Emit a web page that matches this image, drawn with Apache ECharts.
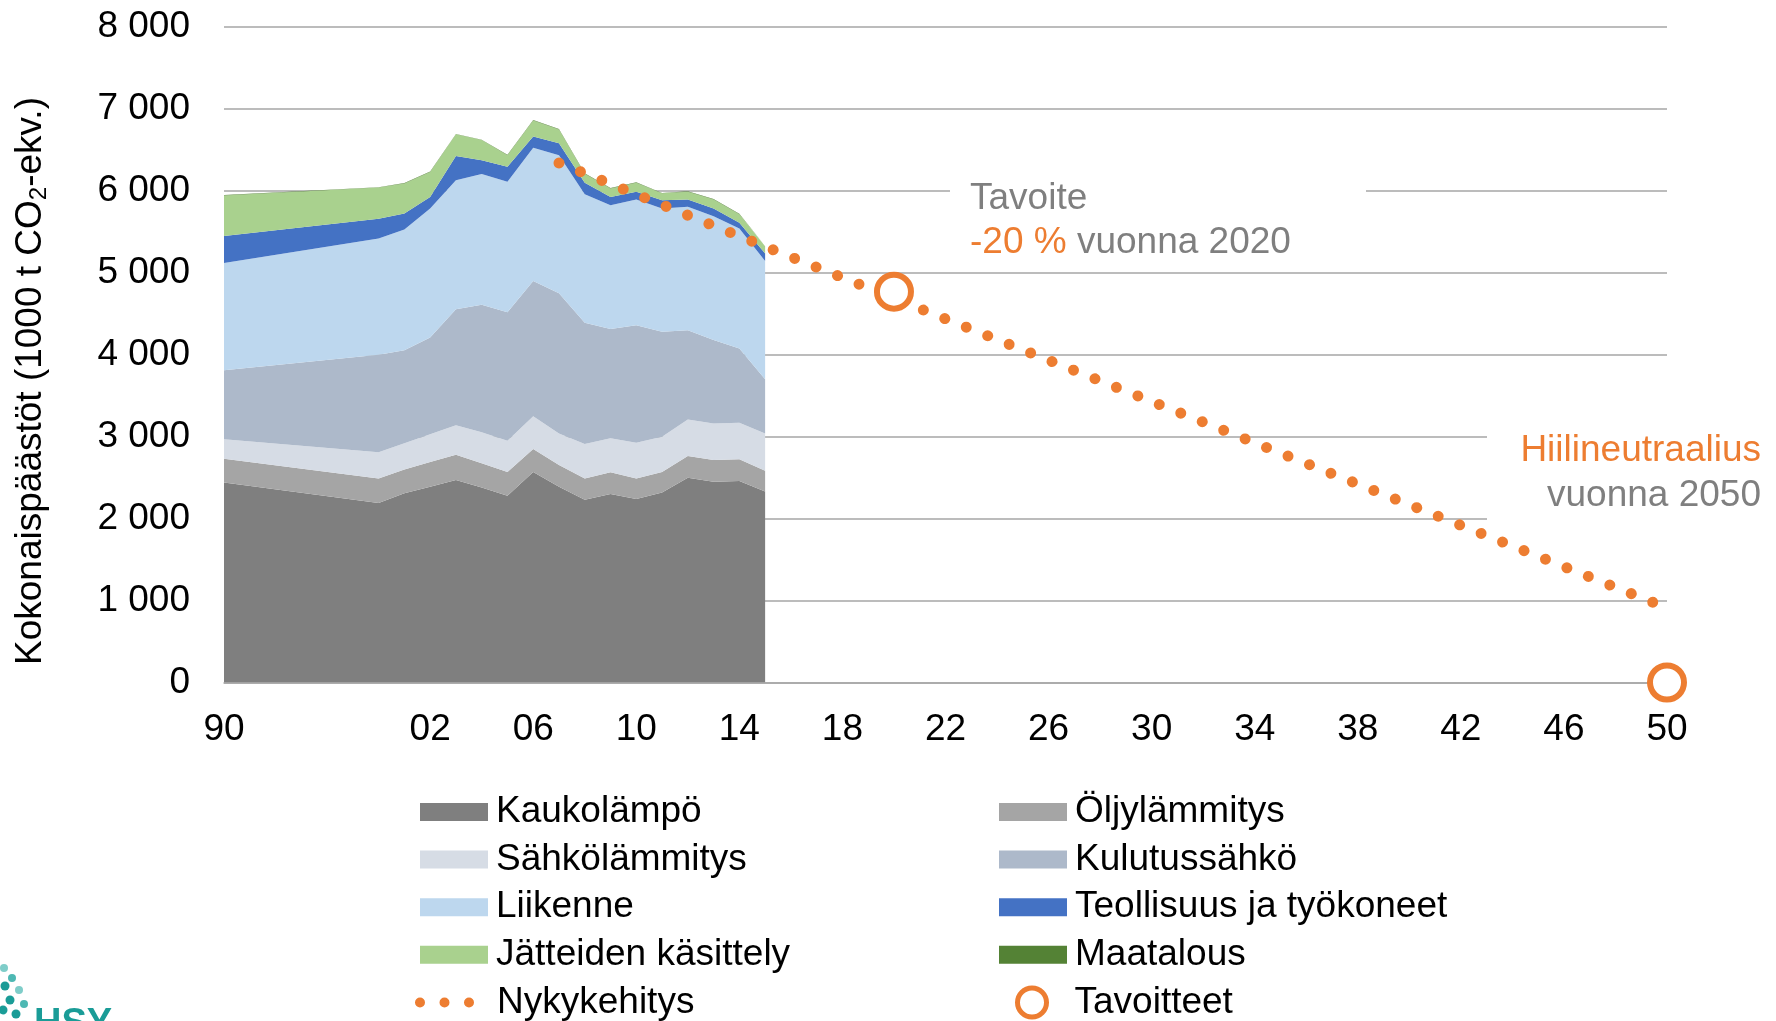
<!DOCTYPE html>
<html>
<head>
<meta charset="utf-8">
<script src="https://cdn.jsdelivr.net/npm/echarts@6/dist/echarts.min.js"></script>
<style>
  html, body { margin: 0; padding: 0; background: #fff; }
  #grafica { width: 1776px; height: 1021px; }
</style>
</head>
<body>
<div id="grafica"></div>
<script>
// vuodet: 1990, sitten tyhjät sarakkeet, 2000-2050
var categories = ['1990', '', '', '', '', ''];
for (var y = 2000; y <= 2050; y++) categories.push(String(y));

var dataYears = [1990, 2000, 2001, 2002, 2003, 2004, 2005, 2006, 2007, 2008, 2009, 2010, 2011, 2012, 2013, 2014, 2015];

var kaukolampo    = [2440, 2190, 2310, 2390, 2470, 2380, 2280, 2570, 2390, 2230, 2300, 2240, 2320, 2500, 2450, 2460, 2330];
var oljylammitys  = [290, 300, 290, 300, 310, 295, 290, 280, 265, 260, 265, 250, 250, 265, 265, 265, 255];
var sahkolammitys = [240, 320, 320, 340, 360, 380, 380, 400, 385, 420, 415, 435, 430, 445, 445, 445, 455];
var kulutussahko  = [840, 1190, 1135, 1180, 1415, 1555, 1570, 1650, 1710, 1480, 1335, 1435, 1280, 1090, 1020, 905, 660];
var liikenne      = [1310, 1420, 1475, 1575, 1575, 1595, 1590, 1625, 1685, 1570, 1510, 1535, 1505, 1505, 1510, 1465, 1445];
var teollisuus    = [330, 240, 195, 140, 295, 170, 185, 140, 145, 140, 100, 95, 100, 90, 95, 70, 90];
var jatteet       = [495, 380, 365, 305, 265, 245, 140, 195, 170, 110, 105, 110, 85, 95, 110, 105, 90];
var maatalous     = [5, 5, 5, 5, 5, 5, 5, 5, 5, 5, 5, 5, 5, 5, 5, 5, 5];

var trendYears  = [2007, 2015, 2050];
var trendValues = [6340, 5320, 910];

var targetYears  = [2020, 2050];
var targetValues = [4770, 0];

var layerNames  = ['Kaukolämpö', 'Öljylämmitys', 'Sähkölämmitys', 'Kulutussähkö', 'Liikenne', 'Teollisuus ja työkoneet', 'Jätteiden käsittely', 'Maatalous'];
var layerValues = [kaukolampo, oljylammitys, sahkolammitys, kulutussahko, liikenne, teollisuus, jatteet, maatalous];
var layerColors = ['#7f7f7f', '#a5a5a5', '#d6dce5', '#adb9ca', '#bdd7ee', '#4472c4', '#a9d18e', '#548235'];

var ORANGE = '#ed7d31';
var GRAYTXT = '#7f7f7f';
var FONT = 'Liberation Sans, Arial, sans-serif';

function pairs(years, vals) {
  return years.map(function (y, i) { return [String(y), vals[i]]; });
}

var series = layerNames.map(function (n, i) {
  return {
    name: n,
    type: 'line',
    stack: 'paastot',
    symbol: 'none',
    itemStyle: { color: layerColors[i] },
    lineStyle: { width: 0 },
    areaStyle: { color: layerColors[i], opacity: 1 },
    data: pairs(dataYears, layerValues[i])
  };
});

series.push({
  name: 'Nykykehitys',
  type: 'line',
  symbol: 'none',
  z: 4,
  itemStyle: { color: ORANGE },
  lineStyle: { color: ORANGE, width: 11, type: [0.01, 23.1], cap: 'round' },
  data: pairs(trendYears, trendValues)
});

series.push({
  name: 'Tavoitteet',
  type: 'scatter',
  symbol: 'circle',
  symbolSize: 34,
  z: 5,
  itemStyle: { color: '#fff', borderColor: ORANGE, borderWidth: 6, opacity: 1 },
  data: pairs(targetYears, targetValues)
});

var legendText = { fontSize: 37, color: '#000', fontFamily: FONT, lineHeight: 40 };

var dom = document.getElementById('grafica');
var myChart = echarts.init(dom, null, { renderer: 'canvas' });

var option = {
  animation: false,
  textStyle: { fontFamily: FONT },
  grid: { left: 224, right: 109, top: 27, bottom: 338.5 },
  xAxis: {
    type: 'category',
    data: categories,
    boundaryGap: false,
    axisTick: { show: false },
    axisLine: { lineStyle: { color: '#a6a6a6', width: 1.5 } },
    axisLabel: {
      interval: 3,
      margin: 28.5,
      fontSize: 37,
      color: '#000',
      formatter: function (v) { return v ? v.slice(2) : ''; }
    }
  },
  yAxis: {
    type: 'value',
    min: 0,
    max: 8000,
    interval: 1000,
    axisLine: { show: false },
    axisTick: { show: false },
    splitLine: { lineStyle: { color: '#a6a6a6', width: 1.5 } },
    axisLabel: {
      margin: 34,
      fontSize: 37,
      color: '#000',
      formatter: function (v) { return String(v).replace(/\B(?=(\d{3})+(?!\d))/g, ' '); }
    }
  },
  legend: [
    {
      orient: 'vertical', left: 420, top: 792, padding: 0, itemWidth: 68, itemHeight: 18, itemGap: 7.6,
      icon: 'rect', selectedMode: false, itemStyle: { borderWidth: 0 },
      textStyle: Object.assign({ padding: [0, 0, 0, 3] }, legendText),
      data: ['Kaukolämpö', 'Sähkölämmitys', 'Liikenne', 'Jätteiden käsittely']
    },
    {
      orient: 'vertical', left: 999, top: 792, padding: 0, itemWidth: 68, itemHeight: 18, itemGap: 7.6,
      icon: 'rect', selectedMode: false, itemStyle: { borderWidth: 0 },
      textStyle: Object.assign({ padding: [0, 0, 0, 3] }, legendText),
      data: ['Öljylämmitys', 'Kulutussähkö', 'Teollisuus ja työkoneet', 'Maatalous']
    },
    {
      orient: 'vertical', left: 415, top: 982.5, padding: 0, itemWidth: 59, itemHeight: 10,
      selectedMode: false, itemStyle: { borderWidth: 0 },
      icon: 'path://M0,5a5,5 0 1,0 10,0a5,5 0 1,0 -10,0zM24.5,5a5,5 0 1,0 10,0a5,5 0 1,0 -10,0zM49,5a5,5 0 1,0 10,0a5,5 0 1,0 -10,0z',
      textStyle: Object.assign({ padding: [0, 0, 0, 18] }, legendText),
      data: ['Nykykehitys']
    },
    {
      orient: 'vertical', left: 1015, top: 982.5, padding: 0, itemWidth: 29, itemHeight: 29,
      icon: 'circle', selectedMode: false,
      itemStyle: { color: '#fff', borderColor: ORANGE, borderWidth: 5 },
      textStyle: Object.assign({ padding: [0, 0, 0, 23] }, legendText),
      data: ['Tavoitteet']
    }
  ],
  graphic: [
    { type: 'rect', z: 1, shape: { x: 950, y: 176, width: 416, height: 92 }, style: { fill: '#fff' } },
    { type: 'rect', z: 1, shape: { x: 1487, y: 423, width: 289, height: 110 }, style: { fill: '#fff' } },
    {
      type: 'text', z: 6, x: 970, y: 176.5,
      style: {
        text: '{g|Tavoite}\n{o|-20 %}{g| vuonna 2020}',
        verticalAlign: 'top',
        rich: {
          g: { fill: GRAYTXT, fontSize: 37, lineHeight: 44.4, fontFamily: FONT },
          o: { fill: ORANGE, fontSize: 37, lineHeight: 44.4, fontFamily: FONT }
        }
      }
    },
    {
      type: 'text', z: 6, x: 1761, y: 429,
      style: {
        text: '{o|Hiilineutraalius}\n{g|vuonna 2050}',
        align: 'right',
        verticalAlign: 'top',
        rich: {
          g: { fill: GRAYTXT, fontSize: 37, lineHeight: 44.3, fontFamily: FONT },
          o: { fill: ORANGE, fontSize: 37, lineHeight: 44.3, fontFamily: FONT }
        }
      }
    },
    {
      type: 'text', z: 6, x: 31, y: 381, rotation: Math.PI / 2,
      style: {
        text: '{t|Kokonaispäästöt (1000 t CO}{s|2}{t|-ekv.)}',
        align: 'center',
        verticalAlign: 'middle',
        rich: {
          t: { fill: '#000', fontSize: 37, lineHeight: 40, fontFamily: FONT },
          s: { fill: '#000', fontSize: 24, lineHeight: 22, verticalAlign: 'bottom', fontFamily: FONT }
        }
      }
    },
    // HSY-logon reuna vasemmassa alakulmassa
    {
      type: 'text', z: 6, x: 34, y: 1006,
      style: { text: 'HSY', fill: '#1a9c97', fontSize: 38, fontWeight: 'bold', fontFamily: FONT }
    },
    { type: 'circle', z: 6, shape: { cx: 4, cy: 968, r: 4 }, style: { fill: '#7fcdc9' } },
    { type: 'circle', z: 6, shape: { cx: 12, cy: 978, r: 4 }, style: { fill: '#4db8b3' } },
    { type: 'circle', z: 6, shape: { cx: 5, cy: 986, r: 4.5 }, style: { fill: '#1a9c97' } },
    { type: 'circle', z: 6, shape: { cx: 19, cy: 990, r: 4 }, style: { fill: '#7fcdc9' } },
    { type: 'circle', z: 6, shape: { cx: 10, cy: 1000, r: 4.5 }, style: { fill: '#1a9c97' } },
    { type: 'circle', z: 6, shape: { cx: 24, cy: 1004, r: 4 }, style: { fill: '#4db8b3' } },
    { type: 'circle', z: 6, shape: { cx: 3, cy: 1010, r: 4.5 }, style: { fill: '#1a9c97' } },
    { type: 'circle', z: 6, shape: { cx: 16, cy: 1014, r: 4.5 }, style: { fill: '#1a9c97' } }
  ],
  series: series
};

if (option && typeof option === 'object') {
  myChart.setOption(option);
}

window.addEventListener('resize', myChart.resize);
</script>
</body>
</html>
